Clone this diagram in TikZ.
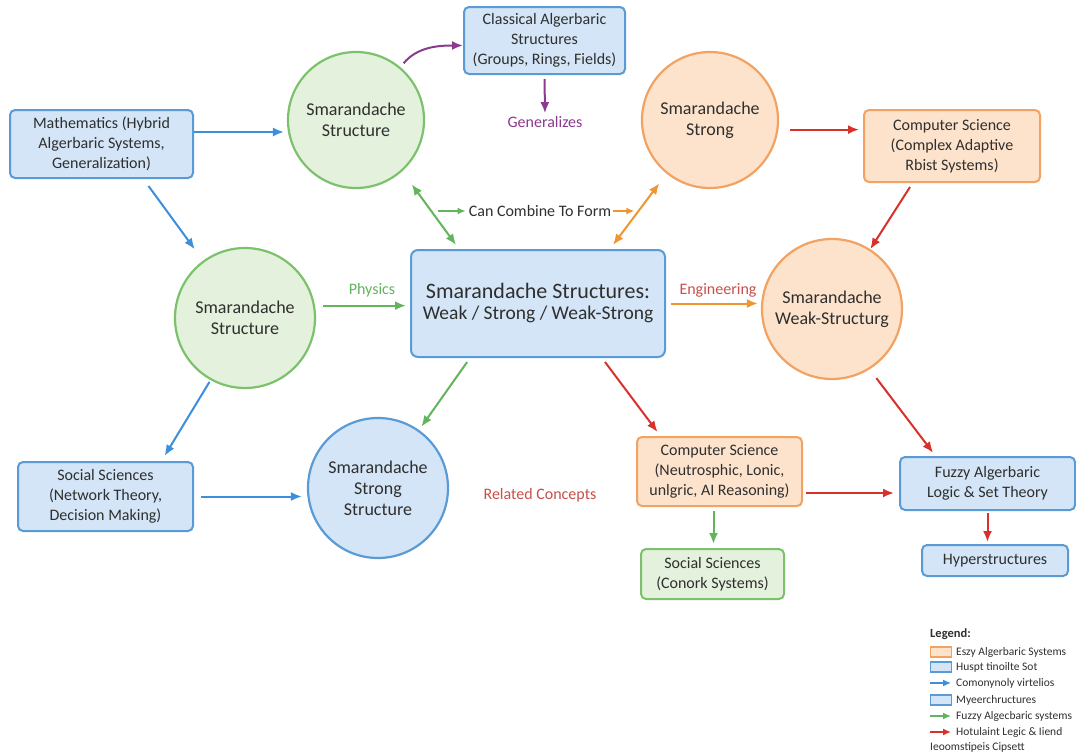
\documentclass[tikz,border=0pt]{standalone}
\usepackage{fontspec}
\setmainfont{Carlito}
\usetikzlibrary{arrows.meta}

\definecolor{ink}{HTML}{2F2F2F}
\definecolor{blueLine}{HTML}{5B9BD5}
\definecolor{blueFill}{HTML}{D3E5F6}
\definecolor{greenLine}{HTML}{7CC26C}
\definecolor{greenFill}{HTML}{E4F1DC}
\definecolor{orangeLine}{HTML}{F2A262}
\definecolor{orangeFill}{HTML}{FDE3CC}
\definecolor{arBlue}{HTML}{3D8FDB}
\definecolor{arGreen}{HTML}{62B55A}
\definecolor{arOrange}{HTML}{F0962F}
\definecolor{arRed}{HTML}{D8302B}
\definecolor{arPurple}{HTML}{8B3A8F}
\definecolor{lblRed}{HTML}{C8504A}

\begin{document}
\begin{tikzpicture}[x=1pt,y=-1pt,
  txt/.style={text=ink, align=center, font=\fontsize{16}{20}\selectfont},
  boxbase/.style={txt, line width=2pt, rounded corners=5pt, inner sep=2pt},
  bluebox/.style={boxbase, draw=blueLine, fill=blueFill},
  greenbox/.style={boxbase, draw=greenLine, fill=greenFill},
  orangebox/.style={boxbase, draw=orangeLine, fill=orangeFill},
  circbase/.style={circle, txt, line width=2.2pt, inner sep=0pt, font=\fontsize{18}{21}\selectfont},
  greencirc/.style={circbase, draw=greenLine, fill=greenFill},
  orangecirc/.style={circbase, draw=orangeLine, fill=orangeFill},
  bluecirc/.style={circbase, draw=blueLine, fill=blueFill},
  lbl/.style={font=\fontsize{16}{19}\selectfont, inner sep=1pt},
  arr/.style={line width=2pt, -{Latex[length=11pt,width=9pt]}},
  dblarr/.style={line width=2pt, {Latex[length=11pt,width=9pt]}-{Latex[length=11pt,width=9pt]}},
  smallarr/.style={line width=1.6pt, -{Latex[length=8pt,width=7pt]}},
  legtxt/.style={anchor=west, text=ink, inner sep=0pt, font=\fontsize{11.5}{13}\selectfont},
  legbox/.style={line width=1.4pt, minimum width=21pt, minimum height=10pt, inner sep=0pt}
]
\useasboundingbox (0,0) rectangle (1076,753);
\fill[white] (0,0) rectangle (1076,753);

% rectangular boxes
\node[bluebox, minimum width=161pt, minimum height=67pt] (cls) at (544.5,40.5)
  {Classical Algerbaric\\Structures\\(Groups, Rings, Fields)};
\node[bluebox, minimum width=183pt, minimum height=68pt] (math) at (101.5,144)
  {Mathematics (Hybrid\\Algerbaric Systems,\\Generalization)};
\node[orangebox, minimum width=176pt, minimum height=72pt] (cs1) at (952,146)
  {Computer Science\\(Complex Adaptive\\Rbist Systems)};
\node[bluebox, minimum width=254pt, minimum height=107pt, rounded corners=7pt] (ctr) at (538,303.5)
  {{\fontsize{22}{27}\selectfont Smarandache Structures:}\\[1pt]{\fontsize{19.5}{24}\selectfont Weak / Strong / Weak-Strong}};
\node[bluebox, minimum width=175pt, minimum height=53pt] (fuzzy) at (987.5,483.5)
  {Fuzzy Algerbaric\\Logic \& Set Theory};
\node[bluebox, minimum width=146pt, minimum height=31pt] (hyper) at (995,560.5)
  {Hyperstructures};
\node[bluebox, minimum width=175pt, minimum height=69pt] (soc1) at (105.5,496.5)
  {Social Sciences\\(Network Theory,\\Decision Making)};
\node[orangebox, minimum width=165pt, minimum height=69pt] (cs2) at (719.5,471.5)
  {Computer Science\\(Neutrosphic, Lonic,\\unlgric, AI Reasoning)};
\node[greenbox, minimum width=143pt, minimum height=50pt] (soc2) at (712.5,574)
  {Social Sciences\\(Conork Systems)};

% circles
\node[greencirc, minimum size=136pt] (c1) at (356,120) {Smarandache\\Structure};
\node[greencirc, minimum size=140pt] (c2) at (245,318) {Smarandache\\Structure};
\node[orangecirc, minimum size=136pt] (c3) at (710,120) {Smarandache\\Strong};
\node[orangecirc, minimum size=140pt] (c4) at (832,309) {Smarandache\\Weak-Structurg};
\node[bluecirc, minimum size=140pt] (c5) at (378,488) {Smarandache\\Strong\\Structure};

% free labels
\node[lbl, text=arPurple] (gen) at (545,122) {Generalizes};
\node[lbl, text=ink] (comb) at (540,211) {Can Combine To Form};
\node[lbl, text=arGreen] (phys) at (372,290) {Physics};
\node[lbl, text=lblRed] (eng) at (718,290) {Engineering};
\node[lbl, text=lblRed] (rel) at (540,495) {Related Concepts};

% connectors
\draw[arr, arPurple, shorten <=5pt] (c1.50) to[out=50,in=180] ([yshift=-5pt]cls.west);
\draw[arr, arPurple, shorten <=4pt, shorten >=2pt] (cls.south) -- (gen.north);
\draw[arr, arBlue, shorten >=4pt] (math.east |- c1.190) -- (c1.190);
\draw[arr, arBlue, shorten >=14pt] ([xshift=47pt,yshift=-7pt]math.south) -- (c2);
\draw[arr, arGreen, shorten <=8pt, shorten >=4pt] (c2.10) -- (c2.10 -| ctr.west);
\draw[dblarr, arGreen, shorten <=16pt, shorten >=5pt] (c1.-48) -- ([xshift=49pt]ctr.north west);
\draw[dblarr, arOrange, shorten <=12pt, shorten >=5pt] (c3.231.6) -- ([xshift=-56pt]ctr.north east);
\draw[smallarr, arGreen] ([xshift=-30pt]comb.west) -- ([xshift=-2pt]comb.west);
\draw[smallarr, arOrange] ([xshift=1pt]comb.east) -- ([xshift=22pt]comb.east);
\draw[arr, arRed, shorten <=12pt, shorten >=4pt] (c3.-8) -- (c3.-8 -| cs1.west);
\draw[arr, arRed] ([xshift=-42pt,yshift=-4pt]cs1.south) -- (c4);
\draw[arr, arOrange, shorten <=5pt, shorten >=3pt] (ctr.east) -- (ctr.east -| c4.west);
\draw[arr, arRed, shorten <=11pt, shorten >=4pt] (c4.-58) -- ([xshift=-52pt]fuzzy.north);
\draw[arr, arRed, shorten <=2pt, shorten >=2pt] (fuzzy.south) -- (fuzzy.south |- hyper.north);
\draw[arr, arGreen, shorten <=5pt, shorten >=4pt] ([xshift=-68pt]ctr.south) -- (c5);
\draw[arr, arBlue, shorten <=2pt, shorten >=6pt] (c2.241) -- ([xshift=56pt]soc1.north);
\draw[arr, arBlue, shorten <=7pt, shorten >=5pt] (soc1.east) -- (soc1.east -| c5.west);
\draw[arr, arRed, shorten <=5pt, shorten >=5pt] ([xshift=64pt]ctr.south) -- ([xshift=-59pt]cs2.north);
\draw[arr, arRed, shorten <=3pt, shorten >=5pt] ([yshift=-21.5pt]cs2.east) -- ([yshift=-21.5pt]cs2.east -| fuzzy.west);
\draw[arr, arGreen, shorten <=4pt, shorten >=4pt] ([xshift=-6pt]cs2.south) -- ([xshift=-6pt]cs2.south |- soc2.north);

% legend
\node[legtxt, font=\fontsize{12.5}{14}\selectfont\bfseries] (legh) at (930,634) {Legend:};
\node[legbox, draw=orangeLine, fill=orangeFill] (ls1) at (941,652) {};
\node[legtxt] (lt1) at (956,652) {Eszy Algerbaric Systems};
\node[legbox, draw=blueLine, fill=blueFill] (ls2) at (941,667) {};
\node[legtxt] (lt2) at (956,667) {Huspt tinoilte Sot};
\coordinate (la3) at (930,683);
\node[legtxt] (lt3) at (956,683) {Comonynoly virtelios};
\draw[smallarr, arBlue, line width=1.4pt] (la3) -- ([xshift=-5pt]lt3.west);
\node[legbox, draw=blueLine, fill=blueFill] (ls4) at (941,700) {};
\node[legtxt] (lt4) at (956,700) {Myeerchructures};
\coordinate (la5) at (930,716);
\node[legtxt] (lt5) at (956,716) {Fuzzy Algecbaric systems};
\draw[smallarr, arGreen, line width=1.4pt] (la5) -- ([xshift=-5pt]lt5.west);
\coordinate (la6) at (930,732);
\node[legtxt] (lt6) at (956,732) {Hotulaint Legic \& Iiend};
\draw[smallarr, arRed, line width=1.4pt] (la6) -- ([xshift=-5pt]lt6.west);
\node[legtxt] (lt7) at (930,747) {Ieoomstipeis Cipsett};
\end{tikzpicture}
\end{document}
